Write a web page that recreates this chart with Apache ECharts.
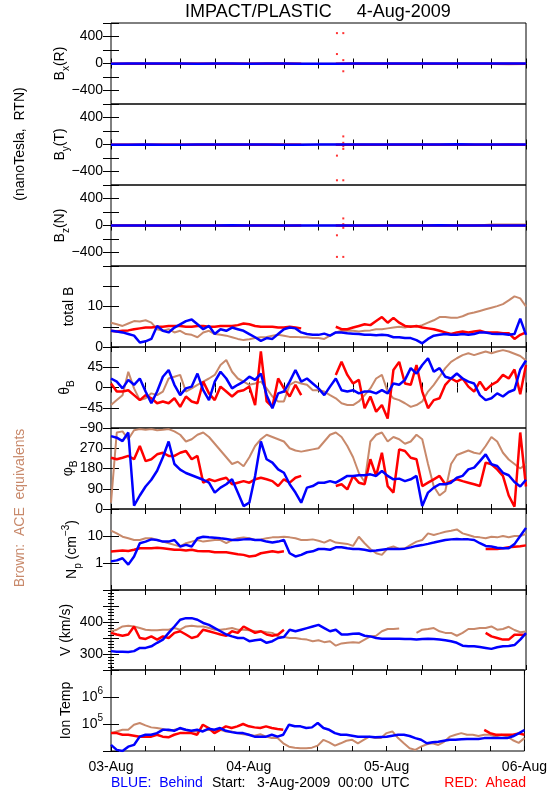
<!DOCTYPE html>
<html><head><meta charset="utf-8">
<script src="https://cdn.jsdelivr.net/npm/echarts@6/dist/echarts.min.js"></script>
<style>html,body{margin:0;padding:0;background:#fff}#c{width:550px;height:800px}</style>
</head><body><div id="c"></div>
<script>
// ---------- DATA ----------
const dayLabels = ['03-Aug', '04-Aug', '05-Aug', '06-Aug'];
const hours = []; for (let h = 0; h <= 72; h++) hours.push(h);        // hourly samples
const bHours = []; for (let h = 0; h <= 72; h += 3) bHours.push(h);   // 3-hourly samples

// B components (nT, RTN)
const bxBrown = [-4,-3,-2,-3,-2,-1,-3,-2,-1,0,-1,-2,-3,-2,-1,-2,-3,-4,-5,-6,-7,-8,-9,-10,-8];
const bxRed   = [-3,-3,-4,-4,-5,-4,-4,-3,-4,-5,-5,-4,null,-3,-4,-4,-5,-5,-4,-3,-3,-3,-3,-3,-3];
const bxBlue  = [-2,-1,-1,0,-1,-2,-1,-1,-2,0,-1,-2,-2,-2,-1,0,1,1,0,-1,-1,0,-1,-1,0];
const byBrown = [-3,-4,-3,-2,-3,-1,1,2,1,0,2,1,0,1,-1,-3,-2,-1,0,-1,-1,-2,-4,-6,-8];
const byRed   = [-2,-3,-4,-4,-3,-2,-2,-3,-3,-2,-3,-2,null,-2,-4,-3,-4,-4,-3,-2,-3,-2,-3,-1,-2];
const byBlue  = [-3,-2,-1,-2,-2,-1,0,-1,-1,-1,-2,-2,-1,-1,0,0,1,0,1,1,2,1,1,0,1];
const bzBrown = [-1,0,-2,-1,-2,-1,-2,-3,-1,-2,-2,-2,-1,-1,-1,0,-1,-1,-1,-1,-2,-2,15,16,15];
const bzRed   = [0,-1,-1,-2,-1,0,-1,-2,-1,0,-2,-1,null,-1,-2,-2,-1,0,-1,-1,0,-1,0,-1,0];
const bzBlue  = [1,0,1,1,0,0,1,2,1,0,0,1,0,1,1,0,0,1,1,2,1,1,0,1,1];
// isolated red spikes
const bxSpikeT = [39.2, 39.2, 40.3, 40.3, 40.3];
const bxSpikeV = [450, 140, 450, 50, -115];
const bySpikeT = [39.2, 39.2, 40.3, 40.3, 40.3, 40.3, 40.3];
const bySpikeV = [-165, -530, 120, 25, -25, -65, -530];
const bzSpikeT = [39.2, 39.2, 40.3, 40.3, 40.3, 40.3];
const bzSpikeV = [-145, -465, 105, 20, -35, -465];

// total B (nT)
const totBBrown = [6.0,5.6,5.2,5.8,6.4,6.3,6.6,6.0,4.4,4.0,4.4,3.6,4.0,3.2,3.0,2.4,3.6,4.0,3.2,3.0,2.8,2.4,2.0,1.7,1.9,2.2,2.4,2.5,2.8,3.0,2.8,2.5,2.5,2.4,2.4,2.2,2.2,2.0,2.8,3.6,4.0,4.1,4.0,3.8,4.0,4.1,4.4,4.4,4.6,4.8,5.0,4.8,5.2,5.0,5.4,6.0,6.6,7.4,7.4,7.2,7.2,7.6,8.2,8.5,8.9,9.3,9.7,10.1,10.6,11.5,12.5,12.0,10.0];
const totBRed = [4.0,3.8,4.0,4.1,4.4,4.6,4.8,4.8,5.0,5.0,5.2,5.2,5.2,5.0,5.0,5.2,5.2,5.0,5.0,5.2,5.2,5.2,5.4,5.8,5.6,5.2,5.0,5.0,5.0,4.8,4.8,5.0,4.8,4.6,null,null,null,null,null,5.0,4.4,4.4,4.8,5.2,5.6,5.4,6.4,7.4,6.0,7.2,6.0,5.2,5.0,5.2,4.8,4.6,4.4,4.0,3.6,3.2,3.6,3.8,3.6,3.8,4.0,3.6,3.6,3.6,3.4,3.4,2.0,3.0,3.6];
const totBBlue = [4.0,3.8,3.6,3.2,2.8,1.1,1.4,2.0,5.2,4.0,3.6,4.8,5.6,6.4,6.8,5.6,4.4,5.2,3.2,4.4,4.0,4.8,4.4,4.0,3.2,2.4,1.5,2.2,2.0,3.2,4.4,4.8,4.6,3.6,3.2,3.0,3.0,3.3,2.8,3.6,3.6,3.4,3.3,3.2,3.0,3.0,2.9,3.0,2.9,2.4,2.4,2.2,2.2,1.7,0.9,2.0,2.8,3.0,3.2,3.0,3.0,3.2,3.0,3.2,3.6,3.6,3.3,3.2,3.2,3.0,3.2,7.0,3.0];

// theta_B (deg)
const thBlue = [20,13,-2,17,6,20,-9,-35,-9,24,39,6,-17,-2,2,31,-6,-28,13,35,20,-2,6,13,24,17,31,-17,-46,-13,-9,13,39,13,20,9,-2,-17,2,20,-6,-9,-6,-13,-9,-9,-13,-6,-13,9,6,17,43,31,50,65,35,43,24,20,31,20,13,9,-17,-28,-24,-13,-20,-10,-5,40,60];
const thRed = [9,-9,-9,-6,-17,-28,-17,-24,-35,-31,-35,-24,-43,-20,-31,-35,13,-13,-28,2,-9,-20,-9,-6,2,-39,80,-31,-43,20,-2,-20,6,-17,null,null,null,null,null,28,57,28,9,17,-46,-20,-54,-39,-69,39,57,9,6,50,-9,-46,-28,-24,6,20,13,20,2,-9,13,-6,6,13,28,20,40,-15,50];
const thBrown = [-39,-28,-17,35,-2,-28,-24,-13,-17,-9,20,24,28,-9,-2,6,13,20,28,50,61,35,20,13,6,9,13,-2,-20,-31,-31,6,13,9,6,-6,-6,-9,-17,-24,-35,-39,-39,-31,-17,-2,20,28,-9,-24,-28,-35,-43,-39,-31,-9,6,24,43,57,65,72,76,72,76,80,76,80,83,80,75,70,60];

// phi_B (deg)
const phBlue = [324,317,302,340,15,60,100,130,170,230,300,200,175,160,150,140,130,117,73,95,110,132,73,13,28,147,300,221,206,176,161,110,73,28,95,102,117,117,124,117,132,147,147,150,150,154,147,169,147,132,135,124,132,147,13,73,95,110,110,117,139,147,176,184,213,243,199,191,161,150,120,100,130];
const phRed = [228,221,228,236,221,280,213,221,243,250,236,236,250,258,221,236,117,132,124,132,139,110,117,124,117,132,139,132,124,102,132,117,139,147,null,null,null,null,null,102,110,87,147,117,110,221,147,250,102,73,265,258,228,221,102,117,132,147,110,124,132,124,117,110,102,206,199,176,147,60,10,340,100];
const phBrown = [28,340,345,310,350,355,352,355,350,352,355,345,330,300,310,330,340,320,290,260,230,200,210,190,230,280,310,330,320,310,300,270,260,255,260,265,270,300,330,340,320,280,230,160,120,300,330,340,300,320,310,290,300,330,310,200,100,60,80,200,240,250,260,250,245,280,320,300,250,220,200,180,200];

// N_p (cm^-3)
const npBrown = [15.7,12.5,9.4,8.2,7.1,7.1,8.2,8.2,7.1,6.2,5.4,4.7,4.1,5.4,6.2,7.1,6.2,6.7,7.1,7.1,5.4,7.1,8.2,8.9,8.2,7.1,7.5,8.2,8.9,8.9,9.4,8.9,8.2,7.1,7.1,7.5,6.7,5.7,7.1,5.7,5.4,5.1,4.3,9.4,5.4,3.3,2.3,2.0,3.5,4.1,3.3,3.5,4.7,6.2,7.1,12.5,10.9,12.5,14.4,15.7,17.5,12.5,10.9,9.4,8.9,8.2,9.4,8.9,10,9,10,10,12];
const npRed = [2.67,2.8,2.9,2.8,3.1,3.5,3.5,3.5,3.7,3.5,3.3,3.1,3.1,2.9,3.1,2.8,2.7,2.7,2.5,2.5,2.5,2.3,2.1,2.0,1.75,1.85,2.3,2.5,2.7,2.5,2.7,null,null,null,null,null,null,null,null,null,null,null,null,null,null,null,null,null,null,null,null,null,null,null,null,null,null,null,null,null,null,null,null,null,null,3.3,3.3,3.3,3.5,3.8,4.0,4.2,4.5];
const npBlue = [1.15,1.25,1.5,0.87,1.75,5.4,6.2,7.5,7.1,6.2,6.2,7.1,4.1,4.7,4.1,8.2,9.4,8.9,8.7,8.2,7.8,7.1,7.1,7.5,7.8,7.1,7.1,6.2,5.7,6.2,7.1,2.3,1.75,2.0,2.5,2.7,3.3,3.3,3.1,3.8,3.8,3.5,3.3,3.3,3.1,2.8,2.9,3.1,3.3,3.3,3.3,3.4,3.8,4.3,4.6,5.1,5.7,6.4,7.1,7.5,7.8,7.5,7.5,7.1,5.4,4.3,4.1,3.7,3.5,3.5,5,10,20];

// V (km/s)
const vBlue = [309,307,307,306,309,319,319,324,335,345,366,386,407,412,412,407,397,391,381,371,361,355,350,350,340,343,345,335,340,350,353,376,371,376,381,386,391,381,371,376,361,361,363,364,357,355,350,348,348,348,348,347,347,345,347,348,347,345,343,340,335,326,324,324,322,319,316,321,324,325,328,345,365];
const vRed = [366,361,357,361,386,350,347,355,345,355,350,366,371,361,350,355,376,371,366,361,357,371,366,386,376,366,371,361,357,361,376,null,null,null,null,null,null,null,null,null,null,null,null,null,null,null,null,null,null,null,null,null,null,null,null,null,null,null,null,null,null,null,null,null,null,366,355,350,345,345,360,360,360];
const vBrown = [371,376,386,388,386,381,376,374,374,376,376,381,376,386,388,386,386,381,376,376,378,381,376,376,374,371,371,368,366,355,353,350,350,347,345,340,343,337,340,326,333,335,337,335,345,355,357,371,378,378,380,null,null,366,376,378,381,371,366,366,357,366,378,378,381,381,386,376,378,385,375,368,370];

// Ion temperature (K)
const tBlue = [1.68e4,1.1e4,1.0e4,1.45e4,1.68e4,3.4e4,4.0e4,4.0e4,4.6e4,6.1e4,6.1e4,5.6e4,7.1e4,6.1e4,5.6e4,6.1e4,5.3e4,6.7e4,6.1e4,7.1e4,5.6e4,5.0e4,4.6e4,4.6e4,4.0e4,3.4e4,3.4e4,3.4e4,4.0e4,3.4e4,4.0e4,9.4e4,8.2e4,8.2e4,7.1e4,7.5e4,1.09e5,7.1e4,6.1e4,4.6e4,4.0e4,4.0e4,3.7e4,3.4e4,3.4e4,3.4e4,3.2e4,3.3e4,3.4e4,3.7e4,4.0e4,4.0e4,3.6e4,3.0e4,2.6e4,1.93e4,2.1e4,2.2e4,2.4e4,2.6e4,2.6e4,2.7e4,2.8e4,2.8e4,2.8e4,3.0e4,3.0e4,3.0e4,3.0e4,3.0e4,3.5e4,4.5e4,6e4];
const tRed = [4.6e4,4.6e4,4.0e4,4.0e4,3.7e4,3.4e4,3.4e4,3.4e4,4.0e4,3.4e4,3.2e4,4.0e4,4.6e4,4.6e4,4.6e4,4.0e4,9.4e4,7.1e4,4.6e4,6.1e4,8.2e4,7.1e4,8.2e4,1.0e5,8.2e4,7.5e4,7.1e4,8.2e4,7.1e4,6.5e4,6.1e4,null,null,null,null,null,null,null,null,null,null,null,null,null,null,null,null,null,null,null,null,null,null,null,null,null,null,null,null,null,null,null,null,null,null,6.1e4,4.6e4,4.0e4,4.0e4,4.0e4,4.0e4,4.5e4,4.0e4];
const tBrown = [4.6e4,5.3e4,6.1e4,6.1e4,9.4e4,1.09e5,8.9e4,7.5e4,7.1e4,6.5e4,5.6e4,6.1e4,6.7e4,6.1e4,5.3e4,5.3e4,5.6e4,6.1e4,5.6e4,6.1e4,5.3e4,5.3e4,4.6e4,4.2e4,4.0e4,3.7e4,4.2e4,3.4e4,3.0e4,3.0e4,1.93e4,1.45e4,1.33e4,1.26e4,1.26e4,1.33e4,1.58e4,2.6e4,2.1e4,1.58e4,1.93e4,2.4e4,2.6e4,1.93e4,2.6e4,3.4e4,3.0e4,3.0e4,4.6e4,5.3e4,3.0e4,1.93e4,1.26e4,1.1e4,1.45e4,1.78e4,1.93e4,1.68e4,2.2e4,3.4e4,4.0e4,4.6e4,4.0e4,4.0e4,3.6e4,4.0e4,4.0e4,3.4e4,4.0e4,3.5e4,2.5e4,2.0e4,3.0e4];

// ---------- CHART ----------
const FONT = 'Liberation Sans, Arial, sans-serif';
const BLUE = '#0000ff', RED = '#ff0000', BROWN = '#c8896b';
const TOPS = [23,104,185,266,347,428,509,590,670];
const BOTS = [104,185,266,347,428,509,590,670,751];
const LEFT = 111, RIGHT = 24;
const MINUS = s => String(s).replace('-', '\u2212');

const rich = {
  n: {fontSize: 14, fontFamily: FONT, color: '#000', lineHeight: 22, verticalAlign: 'middle'},
  s: {fontSize: 10, fontFamily: FONT, color: '#000', lineHeight: 10, verticalAlign: 'bottom'},
  p: {fontSize: 10, fontFamily: FONT, color: '#000', lineHeight: 10, verticalAlign: 'top'}
};

const panels = [
  {name: '{n|B}{s|x}{n|(R)}', type: 'value', min: -600, max: 600, interval: 200, gap: 40,
   fmt: v => (v === 400 || v === 0 || v === -400) ? MINUS(v) : ''},
  {name: '{n|B}{s|y}{n|(T)}', type: 'value', min: -600, max: 600, interval: 200, gap: 40,
   fmt: v => (v === 400 || v === 0 || v === -400) ? MINUS(v) : ''},
  {name: '{n|B}{s|z}{n|(N)}', type: 'value', min: -600, max: 600, interval: 200, gap: 40,
   fmt: v => (v === 400 || v === 0 || v === -400) ? MINUS(v) : ''},
  {name: '{n|total B}', type: 'value', min: 0, max: 20, interval: 5, gap: 31,
   fmt: v => (v === 0 || v === 10) ? String(v) : ''},
  {name: '{n|\u03B8}{s|B}', type: 'value', min: -90, max: 90, interval: 45, gap: 35,
   fmt: v => (v < 90) ? MINUS(v) : ''},
  {name: '{n|\u03C6}{s|B}', type: 'value', min: 0, max: 360, interval: 90, gap: 32,
   fmt: v => (v < 360) ? String(v) : ''},
  {name: '{n|N}{s|p}{n| (cm}{p|\u22123}{n|)}', type: 'log', min: 0.1, max: 100, gap: 28,
   fmt: v => { const e = Math.round(Math.log10(v)); return e === 0 ? '1' : e === 1 ? '10' : ''; }},
  {name: '{n|V (km/s)}', type: 'value', min: 250, max: 500, interval: 50, gap: 34, minor: 5,
   fmt: v => (v === 300 || v === 400) ? String(v) : ''},
  {name: '{n|Ion Temp}', type: 'log', min: 1e4, max: 1e7, gap: 34,
   fmt: v => { const e = Math.round(Math.log10(v)); return (e === 5 || e === 6) ? '{n|10}{p|' + e + '}' : ''; }}
];

const grids = [], xAxes = [], yAxes = [], series = [];
panels.forEach((p, i) => {
  grids.push({left: LEFT, right: RIGHT, top: TOPS[i], height: BOTS[i] - TOPS[i],
    show: true, borderColor: '#000', borderWidth: 1, backgroundColor: 'transparent'});
  ['bottom', 'top'].forEach(pos => {
    xAxes.push({type: 'value', gridIndex: i, position: pos, min: 0, max: 72, interval: 6,
      axisLine: {show: false}, splitLine: {show: false},
      axisTick: {show: true, inside: true, length: 5, lineStyle: {color: '#000'}},
      axisLabel: {show: pos === 'bottom' && i === 8, margin: 9, fontFamily: FONT, fontSize: 14, color: '#000',
        formatter: v => (v % 24 === 0) ? dayLabels[v / 24] : ''}
    });
  });
  ['left', 'right'].forEach(pos => {
    const y = {type: p.type, gridIndex: i, position: pos, min: p.min, max: p.max,
      axisLine: {show: false}, splitLine: {show: false},
      axisTick: {show: true, inside: true, length: 8, lineStyle: {color: '#000'}},
      axisLabel: {show: pos === 'left', margin: 8, fontFamily: FONT, fontSize: 14, color: '#000',
        formatter: p.fmt, rich: rich}
    };
    if (p.type === 'value') y.interval = p.interval; else y.logBase = 10;
    if (p.minor) y.minorTick = {show: true, splitNumber: p.minor, length: 3, lineStyle: {color: '#000'}};
    if (pos === 'left') {
      y.name = p.name; y.nameLocation = 'middle'; y.nameGap = p.gap; y.nameMoveOverlap = false;
      y.nameTextStyle = {rich: rich, fontFamily: FONT, fontSize: 14, color: '#000'};
    }
    yAxes.push(y);
  });
});

function addLine(panel, xs, ys, color, width) {
  series.push({type: 'line', xAxisIndex: panel * 2, yAxisIndex: panel * 2,
    data: xs.map((x, k) => [x, ys[k]]), showSymbol: false, connectNulls: false,
    lineStyle: {color: color, width: width}, itemStyle: {color: color}, silent: true, clip: true});
}
function addDots(panel, xs, ys, color) {
  series.push({type: 'scatter', xAxisIndex: panel * 2, yAxisIndex: panel * 2,
    data: xs.map((x, k) => [x, ys[k]]), symbol: 'rect', symbolSize: 2,
    itemStyle: {color: color}, silent: true});
}
const sets = [
  [bHours, bxBrown, bxRed, bxBlue],
  [bHours, byBrown, byRed, byBlue],
  [bHours, bzBrown, bzRed, bzBlue],
  [hours, totBBrown, totBRed, totBBlue],
  [hours, thBrown, thRed, thBlue],
  [hours, phBrown, phRed, phBlue],
  [hours, npBrown, npRed, npBlue],
  [hours, vBrown, vRed, vBlue],
  [hours, tBrown, tRed, tBlue]
];
sets.forEach((s, i) => {
  addLine(i, s[0], s[1], BROWN, 2);
  addLine(i, s[0], s[2], RED, 2.5);
  addLine(i, s[0], s[3], BLUE, 2.5);
});
addDots(0, bxSpikeT, bxSpikeV, RED);
addDots(1, bySpikeT, bySpikeV, RED);
addDots(2, bzSpikeT, bzSpikeV, RED);

const graphic = [
  {type: 'text', x: 318, y: 12, style: {text: 'IMPACT/PLASTIC     4-Aug-2009', fill: '#000',
    font: '18px ' + FONT, textAlign: 'center', textVerticalAlign: 'middle'}},
  {type: 'text', x: 20, y: 144, rotation: Math.PI / 2, style: {text: '(nanoTesla,  RTN)', fill: '#000',
    font: '14px ' + FONT, textAlign: 'center', textVerticalAlign: 'middle'}},
  {type: 'text', x: 20, y: 508, rotation: Math.PI / 2, style: {text: 'Brown:  ACE  equivalents', fill: BROWN,
    font: '14px ' + FONT, textAlign: 'center', textVerticalAlign: 'middle'}},
  {type: 'text', x: 111, y: 783, style: {text: 'BLUE:  Behind', fill: BLUE, font: '14px ' + FONT, textAlign: 'left', textVerticalAlign: 'middle'}},
  {type: 'text', x: 212, y: 783, style: {text: 'Start:   3-Aug-2009  00:00  UTC', fill: '#000', font: '14px ' + FONT, textAlign: 'left', textVerticalAlign: 'middle'}},
  {type: 'text', x: 526, y: 783, style: {text: 'RED:  Ahead', fill: RED, font: '14px ' + FONT, textAlign: 'right', textVerticalAlign: 'middle'}}
];

const chart = echarts.init(document.getElementById('c'), null, {renderer: 'canvas', width: 550, height: 800});
chart.setOption({animation: false, backgroundColor: '#fff', grid: grids, xAxis: xAxes, yAxis: yAxes, series: series, graphic: graphic});
</script></body></html>
